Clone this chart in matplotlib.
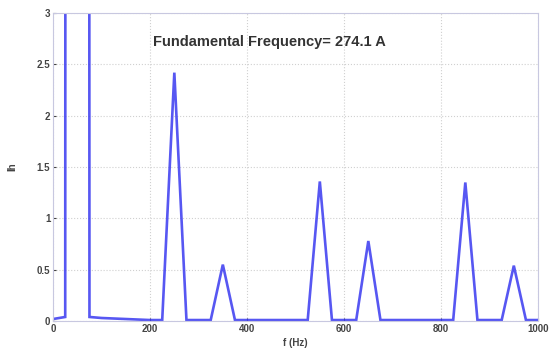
import numpy as np
import matplotlib.pyplot as plt

# harmonic spectrum, 25 Hz resolution
f = np.arange(0, 1001, 25)
h = [0.02, 0.04, 274.1, 0.04, 0.03, 0.025, 0.02, 0.015, 0.01, 0.01,
     2.42, 0.01, 0.01, 0.01, 0.55, 0.01, 0.01, 0.01, 0.01, 0.01,
     0.01, 0.01, 1.36, 0.01, 0.01, 0.01, 0.78, 0.01, 0.01, 0.01,
     0.01, 0.01, 0.01, 0.01, 1.35, 0.01, 0.01, 0.01, 0.54, 0.01, 0.01]

xticks = [0, 200, 400, 600, 800, 1000]
yticks = [0, 0.5, 1, 1.5, 2, 2.5, 3]
yticklabels = ['0', '0.5', '1', '1.5', '2', '2.5', '3']

plt.rcParams['font.family'] = ['Liberation Sans', 'DejaVu Sans']

fig = plt.figure(figsize=(5.53, 3.54), dpi=100)
ax = fig.add_axes([0.096, 0.093, 0.877, 0.87])

ax.plot(f, h, color='#3a3af0', lw=1.9, alpha=0.85, solid_joinstyle='miter')

ax.set_xlim(0, 1000)
ax.set_ylim(0, 3)
ax.set_xticks(xticks)
ax.set_yticks(yticks)
ax.set_yticklabels(yticklabels)
ax.tick_params(labelsize=7, length=2, direction='in', colors='#444444', pad=2)
for lab in ax.get_xticklabels() + ax.get_yticklabels():
    lab.set_fontweight('bold')
ax.grid(True, linestyle=':', color='#d0d0d0', lw=0.8)
for s in ax.spines.values():
    s.set_color('#c8c8e0')

ax.set_xlabel('f (Hz)', fontsize=7, fontweight='bold', color='#444444', labelpad=3)
ax.set_ylabel('Ih', fontsize=7, fontweight='bold', color='#444444', labelpad=14)

ax.text(205, 2.72, 'Fundamental Frequency= 274.1 A', fontsize=10.5,
        fontweight='bold', color='#333333', va='center')

fig.savefig('out.png', dpi=100)
